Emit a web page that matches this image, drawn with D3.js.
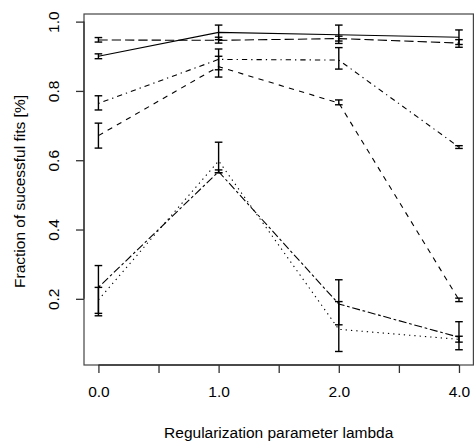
<!DOCTYPE html>
<html><head><meta charset="utf-8">
<script src="https://cdn.jsdelivr.net/npm/d3@7"></script>
<style>body{margin:0;background:#fff}svg{display:block}text{font-family:"Liberation Sans",Arial,sans-serif;fill:#000}</style>
</head><body>
<svg id="c" width="475" height="441"></svg>
<script>
const xIndex = [1, 2, 3, 4];
const xLabels = ["0.0", "1.0", "2.0", "4.0"];
const xTicks = [1, 1.5, 2, 2.5, 3, 3.5, 4];
const yTicks = [0.2, 0.4, 0.6, 0.8, 1.0];
const xTitle = "Regularization parameter lambda";
const yTitle = "Fraction of sucessful fits [%]";

const s1Mean = [0.900, 0.969, 0.962, 0.955];
const s1Lo   = [0.893, 0.948, 0.937, 0.934];
const s1Hi   = [0.907, 0.990, 0.990, 0.976];
const s2Mean = [0.947, 0.946, 0.951, 0.938];
const s2Lo   = [0.941, 0.938, 0.944, 0.926];
const s2Hi   = [0.954, 0.955, 0.958, 0.948];
const s3Mean = [0.764, 0.891, 0.889, 0.638];
const s3Lo   = [0.745, 0.861, 0.863, 0.634];
const s3Hi   = [0.786, 0.921, 0.925, 0.642];
const s4Mean = [0.671, 0.870, 0.765, 0.197];
const s4Lo   = [0.635, 0.840, 0.760, 0.192];
const s4Hi   = [0.707, 0.900, 0.774, 0.202];
const s5Mean = [0.233, 0.567, 0.185, 0.089];
const s5Lo   = [0.158, 0.564, 0.125, 0.053];
const s5Hi   = [0.296, 0.572, 0.255, 0.134];
const s6Mean = [0.197, 0.598, 0.112, 0.083];
const s6Lo   = [0.151, 0.564, 0.048, 0.075];
const s6Hi   = [0.233, 0.652, 0.192, 0.092];

const series = [
  {mean: s1Mean, lo: s1Lo, hi: s1Hi, dash: null},
  {mean: s2Mean, lo: s2Lo, hi: s2Hi, dash: "9.3,4"},
  {mean: s3Mean, lo: s3Lo, hi: s3Hi, dash: "1.3,4,5.3,4"},
  {mean: s4Mean, lo: s4Lo, hi: s4Hi, dash: "5.3,5.3"},
  {mean: s5Mean, lo: s5Lo, hi: s5Hi, dash: "2.7,2.7,8,2.7"},
  {mean: s6Mean, lo: s6Lo, hi: s6Hi, dash: "1.3,4"}
];

const L = 84, R = 473.4, T = 14, B = 365;
const x = d3.scaleLinear().domain([0.88, 4.12]).range([L, R]);
const y = d3.scaleLinear().domain([0.009, 1.022]).range([B, T]);
const svg = d3.select("#c");

// box
svg.append("rect").attr("x", L).attr("y", T).attr("width", R - L).attr("height", B - T)
  .attr("fill", "none").attr("stroke", "#444").attr("stroke-width", 1.2);

// x axis
const xa = svg.append("g").attr("transform", `translate(0,${B})`)
  .call(d3.axisBottom(x).tickValues(xTicks).tickSize(8).tickPadding(13)
    .tickFormat(d => { const i = xIndex.indexOf(d); return i >= 0 ? xLabels[i] : ""; }));
xa.select(".domain").attr("d", `M${x(xTicks[0])},0H${x(xTicks[xTicks.length-1])}`).attr("stroke", "#333").attr("stroke-width", 1.3);
xa.selectAll(".tick line").attr("stroke", "#333").attr("stroke-width", 1.3);
xa.selectAll("text").attr("font-size", 15.5).attr("font-family", "Liberation Sans, Arial, sans-serif");

// y axis
const ya = svg.append("g").attr("transform", `translate(${L},0)`)
  .call(d3.axisLeft(y).tickValues(yTicks).tickSize(8).tickFormat(d3.format(".1f")));
ya.select(".domain").attr("d", `M0,${y(yTicks[0])}V${y(yTicks[yTicks.length-1])}`).attr("stroke", "#333").attr("stroke-width", 1.3);
ya.selectAll(".tick line").attr("stroke", "#333").attr("stroke-width", 1.3);
ya.selectAll("text").attr("font-size", 15.5).attr("font-family", "Liberation Sans, Arial, sans-serif")
  .attr("x", null).attr("dy", null).attr("text-anchor", "middle")
  .attr("transform", "translate(-30,0) rotate(-90)").attr("dy", "0");
ya.selectAll("text").attr("y", 5);

// titles
svg.append("text").attr("x", (L + R) / 2).attr("y", 438).attr("text-anchor", "middle")
  .attr("font-size", 15.5).text(xTitle);
svg.append("text").attr("transform", `translate(25,${(T + B) / 2 + 2}) rotate(-90)`)
  .attr("text-anchor", "middle").attr("font-size", 15.5).text(yTitle);

// lines
const line = d3.line().x((d, i) => x(xIndex[i])).y(d => y(d));
series.forEach(s => {
  svg.append("path").attr("d", line(s.mean)).attr("fill", "none")
    .attr("stroke", "#000").attr("stroke-width", 1.1)
    .attr("stroke-dasharray", s.dash);
});

// error bars
const cap = 3.8;
series.forEach(s => {
  const g = svg.append("g").attr("stroke", "#000").attr("stroke-width", 1.4);
  xIndex.forEach((xi, i) => {
    const cx = x(xi);
    g.append("line").attr("x1", cx).attr("x2", cx).attr("y1", y(s.lo[i])).attr("y2", y(s.hi[i]));
    g.append("line").attr("x1", cx - cap).attr("x2", cx + cap).attr("y1", y(s.lo[i])).attr("y2", y(s.lo[i]));
    g.append("line").attr("x1", cx - cap).attr("x2", cx + cap).attr("y1", y(s.hi[i])).attr("y2", y(s.hi[i]));
  });
});
</script>
</body></html>
